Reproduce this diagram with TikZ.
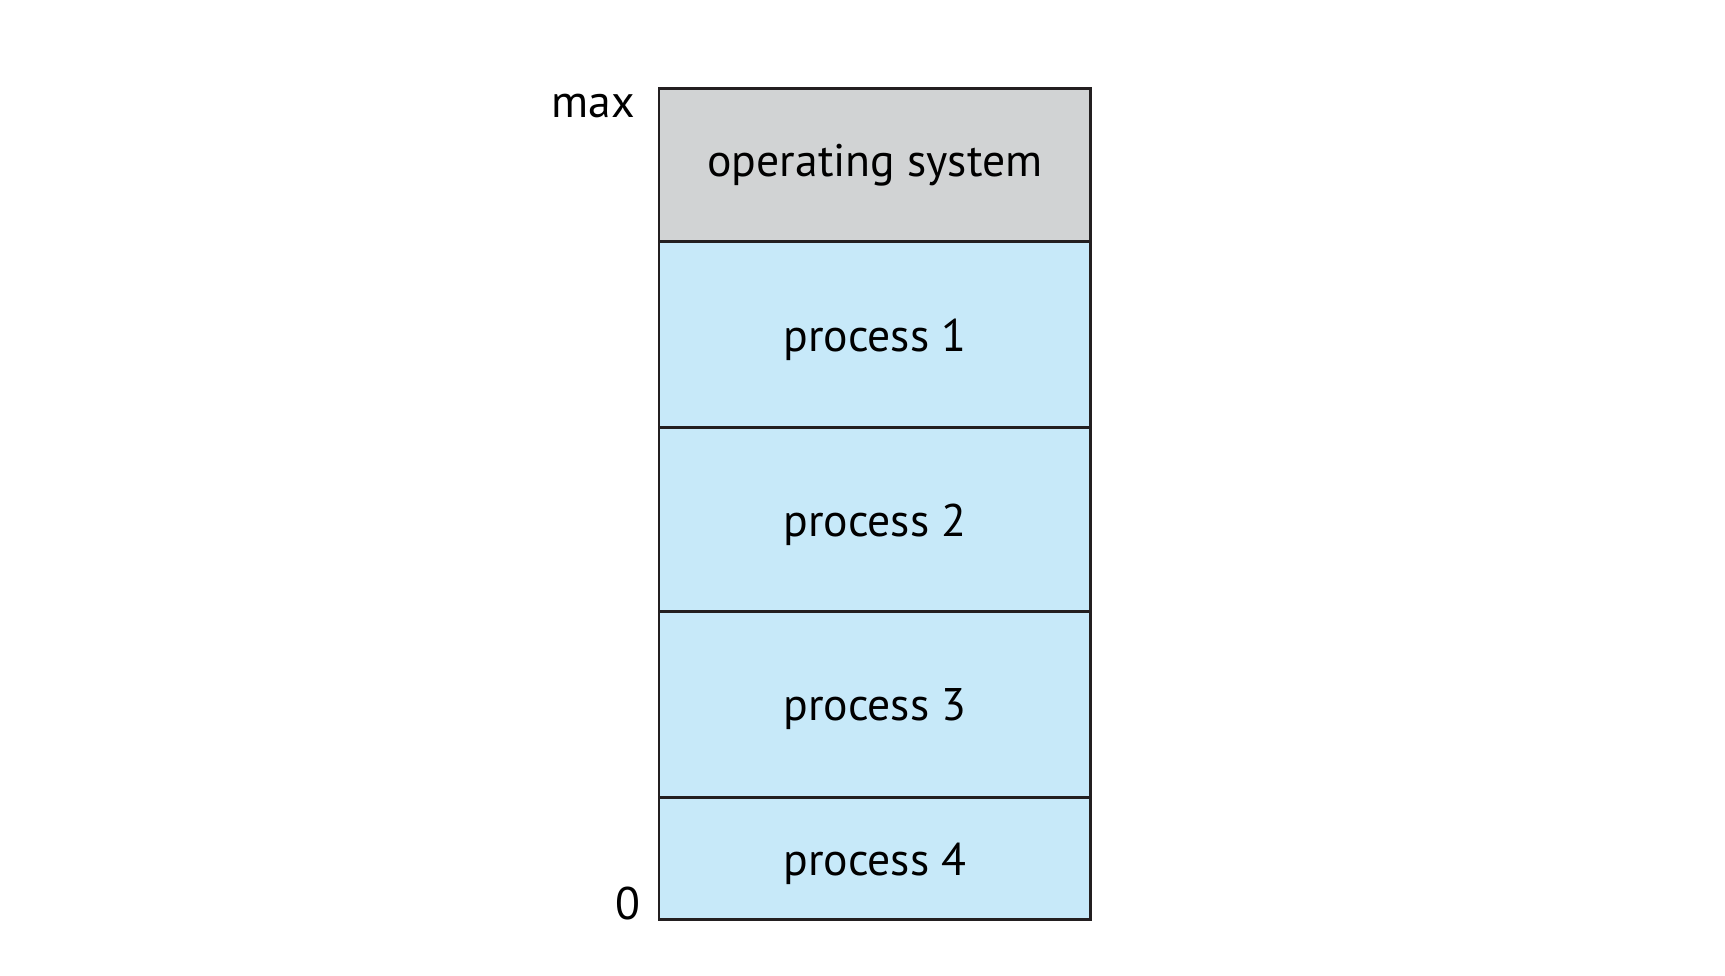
\documentclass[tikz,border=0pt]{standalone}
\usepackage{fontspec}
\setmainfont{PT Sans}
\usetikzlibrary{positioning}
\definecolor{osgray}{RGB}{209,211,212}
\definecolor{procblue}{RGB}{199,233,249}
\definecolor{edgeline}{RGB}{35,31,32}
\tikzstyle{region}=[draw=edgeline,line width=1.7pt,minimum width=8.64cm,inner sep=0pt,outer sep=0pt,font=\fontsize{26}{30}\selectfont]
\tikzstyle{proc}=[region,fill=procblue,text depth=0pt]
\tikzstyle{addr}=[inner sep=0pt,font=\fontsize{26}{30}\selectfont]

\begin{document}
\begin{tikzpicture}[x=0.02cm,y=-0.02cm]
	\useasboundingbox (0,0) rectangle (1725,975);
	
	\node[region,fill=osgray,minimum height=3.08cm,anchor=north west] (os) at (659,88) {operating system};
	\node[proc,minimum height=3.72cm,below=0pt of os] (p1) {process 1};
	\node[proc,minimum height=3.68cm,below=0pt of p1] (p2) {process 2};
	\node[proc,minimum height=3.72cm,below=0pt of p2] (p3) {process 3};
	\node[proc,minimum height=2.44cm,below=0pt of p3] (p4) {process 4};
	
	\node[addr,anchor=base east] (max) at ([xshift=-0.48cm,yshift=-0.58cm]os.north west) {max};
	\node[addr,anchor=base east] (zero) at ([xshift=-0.36cm]p4.south west) {0};
	
\end{tikzpicture}
\end{document}
